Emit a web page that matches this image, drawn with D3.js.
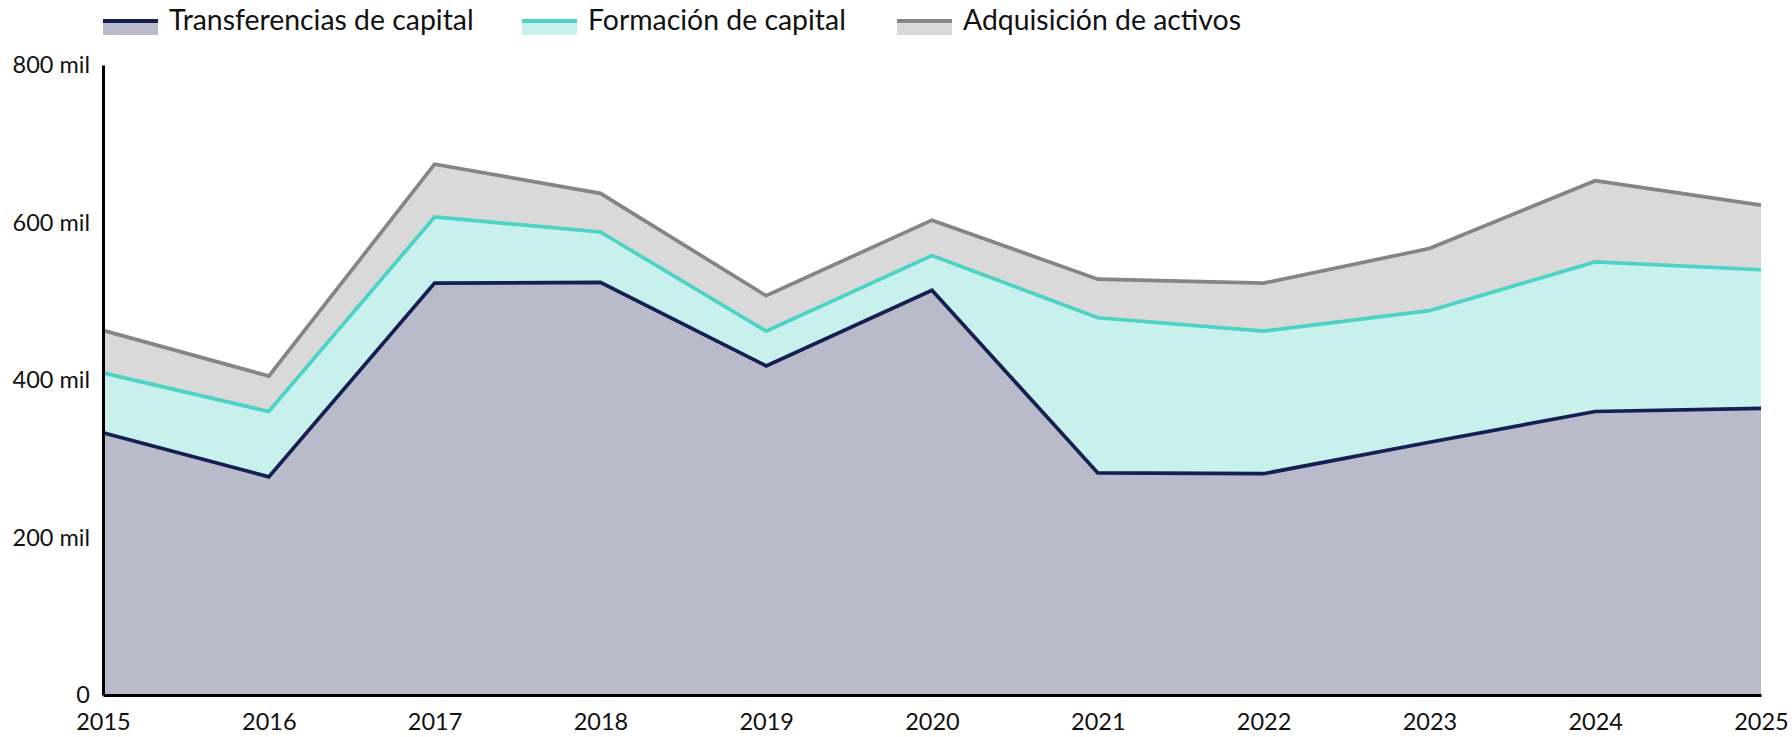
<!DOCTYPE html>
<html>
<head>
<meta charset="utf-8">
<script src="https://cdn.jsdelivr.net/npm/d3@7"></script>
<style>
  body { margin: 0; background: #fff; }
  svg { display: block; font-family: Lato, "Noto Sans", sans-serif; }
</style>
</head>
<body>
<svg id="chart" width="1792" height="737"></svg>
<script>
// data (miles)
const years = [2015, 2016, 2017, 2018, 2019, 2020, 2021, 2022, 2023, 2024, 2025];
const transferencias = [333, 277, 523, 524, 418, 514, 282, 281, 321, 360, 364];
const formacion = [76, 83, 84, 64, 44, 44, 197, 181, 167, 190, 176];
const adquisicion = [54, 45, 67, 49, 45, 45, 49, 61, 79, 103, 82];
const yTicks = [0, 200, 400, 600, 800];

const seriesNames = ['Transferencias de capital', 'Formación de capital', 'Adquisición de activos'];
const lineColors = ['#161f52', '#4dd2c6', '#858585'];
const fillColors = ['#b9bbcb', '#c8f0ec', '#d9d9d9'];

const rows = years.map((y, i) => ({
  year: y,
  t: transferencias[i],
  f: formacion[i],
  a: adquisicion[i]
}));

const svg = d3.select('#chart');
const margin = {left: 103, right: 31, top: 65, bottom: 42};
const W = 1792, H = 737;

const x = d3.scaleLinear()
  .domain(d3.extent(years))
  .range([margin.left, W - margin.right]);
const y = d3.scaleLinear()
  .domain([0, 800])
  .range([H - margin.bottom, margin.top]);

const stacked = d3.stack().keys(['t', 'f', 'a'])(rows);

const area = d3.area()
  .x(d => x(d.data.year))
  .y0(d => y(d[0]))
  .y1(d => y(d[1]));

const line = d3.line()
  .x(d => x(d.data.year))
  .y(d => y(d[1]));

svg.append('g').selectAll('path')
  .data(stacked)
  .join('path')
  .attr('d', area)
  .attr('fill', (d, i) => fillColors[i]);

svg.append('g').selectAll('path')
  .data(stacked)
  .join('path')
  .attr('d', line)
  .attr('fill', 'none')
  .attr('stroke', (d, i) => lineColors[i])
  .attr('stroke-width', 3.7)
  .attr('stroke-linejoin', 'miter');

// axes
const yAxis = svg.append('g')
  .attr('transform', `translate(${margin.left},0)`)
  .call(d3.axisLeft(y).tickValues(yTicks).tickSize(0).tickSizeOuter(0).tickPadding(13)
    .tickFormat(d => d === 0 ? '0' : d + ' mil'));
yAxis.select('.domain').attr('stroke', '#000').attr('stroke-width', 3);
yAxis.selectAll('text').attr('font-size', 23.5).attr('fill', '#111').attr('font-family', 'Lato');

const xAxis = svg.append('g')
  .attr('transform', `translate(0,${H - margin.bottom})`)
  .call(d3.axisBottom(x).tickValues(years).tickFormat(d3.format('d')).tickSize(0).tickSizeOuter(0).tickPadding(18));
xAxis.select('.domain').attr('stroke', '#000').attr('stroke-width', 3);
xAxis.selectAll('text').attr('font-size', 23.5).attr('fill', '#111').attr('font-family', 'Lato');

// legend
const legendX = [103, 522, 897];
const legend = svg.append('g').selectAll('g')
  .data(seriesNames)
  .join('g')
  .attr('transform', (d, i) => `translate(${legendX[i]},0)`);
legend.append('rect')
  .attr('x', 0).attr('y', 23).attr('width', 55).attr('height', 12)
  .attr('fill', (d, i) => fillColors[i]);
legend.append('rect')
  .attr('x', 0).attr('y', 19).attr('width', 55).attr('height', 4)
  .attr('fill', (d, i) => lineColors[i]);
legend.append('text')
  .attr('x', 66).attr('y', 30)
  .attr('font-size', 28.4)
  .attr('fill', '#111')
  .text(d => d);
</script>
</body>
</html>
